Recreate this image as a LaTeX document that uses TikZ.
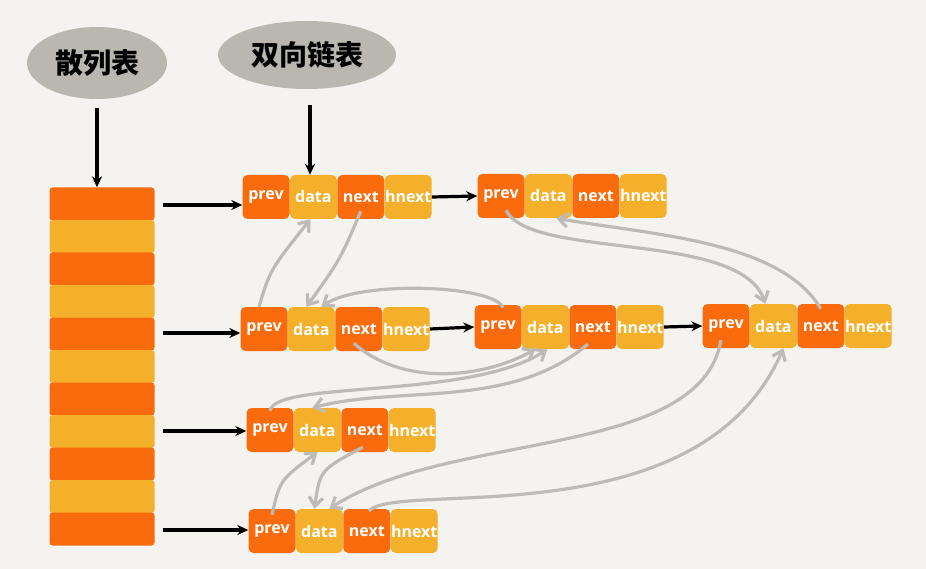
\documentclass[tikz,border=0pt]{standalone}
\usepackage{fontspec}
\setmainfont{Open Sans}
\newfontfamily\cjk{Noto Sans CJK SC}
\usetikzlibrary{arrows.meta,shapes.geometric}
\definecolor{bg}{HTML}{F4F3EF}
\definecolor{org}{HTML}{F96B0C}
\definecolor{yel}{HTML}{F4B02B}
\definecolor{gr}{HTML}{BDBBB5}
\definecolor{bub}{HTML}{B9B7AF}
\tikzset{
 cell/.style={minimum width=47pt,minimum height=44pt,inner sep=0pt,rounded corners=5pt,text=white,font=\fontsize{16}{16}\selectfont\bfseries},
 oc/.style={cell,fill=org}, yc/.style={cell,fill=yel},
 blk/.style={-{Stealth[length=11pt,width=10pt]},line width=3.2pt,black},
 gra/.style={-{Straight Barb[length=9pt,width=14pt]},line width=3.2pt,gr},
 stripe/.style={minimum width=105pt,minimum height=33pt,inner sep=0pt,rounded corners=3pt},
 bubble/.style={ellipse,fill=bub,inner sep=0pt,font=\cjk\fontsize{28}{28}\selectfont\bfseries}
}
\newcommand{\hn}[3]{%
 \node[oc] (#1p) at (#2,#3) {prev};
 \node[yc,anchor=west] (#1d) at (#1p.east) {data};
 \node[oc,anchor=west] (#1n) at (#1d.east) {next};
 \node[yc,anchor=west] (#1h) at (#1n.east) {hnext};}
\begin{document}
\begin{tikzpicture}[x=1pt,y=-1pt]
\fill[bg] (0,0) rectangle (926,569);
\useasboundingbox (0,0) rectangle (926,569);
\foreach \i in {0,...,10}{
 \pgfmathsetmacro\yy{204+\i*32.5}
 \ifodd\i \node[stripe,fill=yel] (s\i) at (102,\yy) {}; \else \node[stripe,fill=org] (s\i) at (102,\yy) {}; \fi}
\node[bubble,minimum width=140pt,minimum height=72pt] (b1) at (97,63) {散列表};
\node[bubble,minimum width=178pt,minimum height=68pt] (b2) at (307,55) {双向链表};
\hn{a}{266}{197}
\hn{b}{501}{196}
\hn{c}{264}{329}
\hn{d}{498}{327}
\hn{e}{726}{326}
\hn{f}{270}{430}
\hn{g}{272}{531}
\coordinate (t1) at (97,108); \coordinate (t2) at (310,105);
\draw[blk] (t1) -- (s0.north -| t1);
\draw[blk] (t2) -- (ad.north -| t2);
\coordinate (k0) at (163,205); \coordinate (k4) at (163,333);
\coordinate (k7) at (163,431); \coordinate (k10) at (163,530);
\draw[blk] (k0) -- (ap.west |- k0);
\draw[blk] (k4) -- (cp.west |- k4);
\draw[blk] (k7) -- (fp.west |- k7);
\draw[blk] (k10) -- (gp.west |- k10);
\draw[blk] (ah.east) -- (bp.west);
\draw[blk] (ch.east) -- (dp.west);
\draw[blk] (dh.east) -- (ep.west);
% doubly linked list
\draw[gra] ([xshift=-5pt]cp.north) .. controls (270,270) .. ([xshift=-3pt]ad.south);
\draw[gra] ([yshift=8pt]an.south) .. controls (340,260) .. ([xshift=-5pt]cd.north);
\draw[gra] ([xshift=5pt,yshift=-3pt]dp.north) .. controls (495,285) and (360,280) .. ([xshift=10pt]cd.north);
\draw[gra] ([xshift=-5pt,yshift=8pt]cn.south) .. controls (400,385) and (480,380) .. ([xshift=-10pt]dd.south);
\draw[gra] ([yshift=-3pt]fp.north) .. controls (275,380) and (470,400) .. ([xshift=2pt]dd.south);
\draw[gra] ([xshift=-5pt,yshift=5pt]dn.south) .. controls (510,410) and (400,385) .. ([xshift=-5pt]fd.north);
\draw[gra] ([yshift=-6pt]gp.north) .. controls (280,480) .. (fd.south);
\draw[gra] ([xshift=-2pt,yshift=5pt]fn.south) .. controls (320,470) .. ([xshift=-5pt]gd.north);
\draw[gra] ([xshift=-5pt,yshift=8pt]ep.south) .. controls (700,460) and (450,430) .. ([xshift=10pt]gd.north);
\draw[gra] ([xshift=2pt,yshift=-2pt]gn.north) .. controls (400,480) and (700,540) .. ([xshift=10pt]ed.south);
\draw[gra] ([xshift=5pt,yshift=8pt]bp.south) .. controls (530,260) and (740,230) .. ([xshift=-8pt]ed.north);
\draw[gra] ([yshift=-5pt]en.north) .. controls (780,240) and (650,235) .. ([xshift=8pt]bd.south);
\end{tikzpicture}
\end{document}
